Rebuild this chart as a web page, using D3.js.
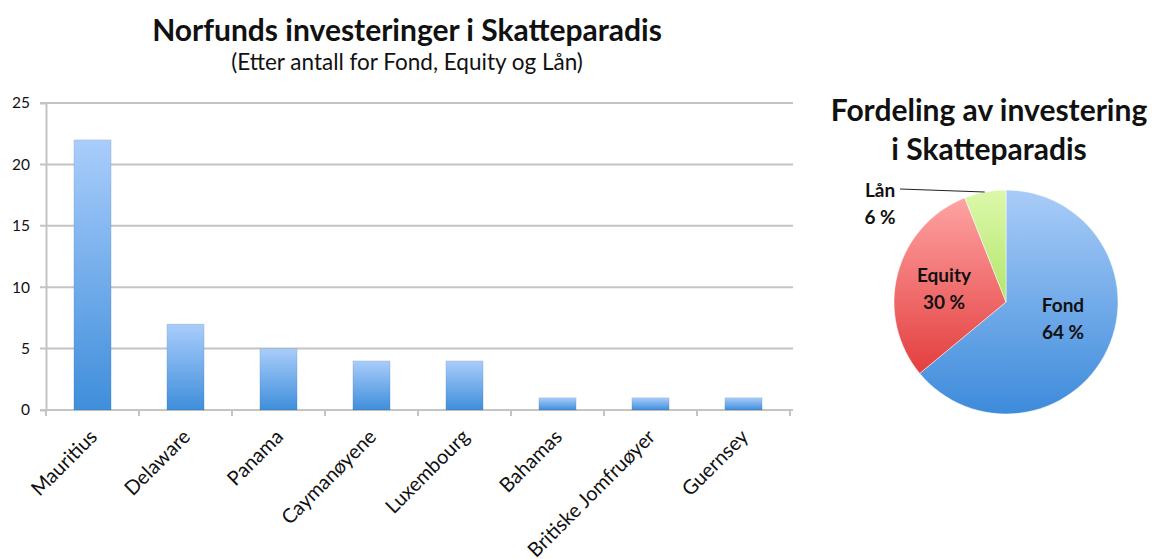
<!DOCTYPE html>
<html>
<head>
<meta charset="utf-8">
<script src="https://cdn.jsdelivr.net/npm/d3@7"></script>
<style>
  body { margin: 0; background: #fff; }
  text { font-family: Lato, "Open Sans", sans-serif; fill: #111; }
</style>
</head>
<body>
<div id="chart"></div>
<script>
// bar chart data
const countries = ["Mauritius", "Delaware", "Panama", "Caymanøyene", "Luxembourg", "Bahamas", "Britiske Jomfruøyer", "Guernsey"];
const counts = [22, 7, 5, 4, 4, 1, 1, 1];
const yTicks = [0, 5, 10, 15, 20, 25];

// pie data
const pieLabels = ["Fond", "Equity", "Lån"];
const pieValues = [64, 30, 6];

const width = 1152, height = 559;
const margin = ({top: 103, right: 362, bottom: 149, left: 46});

const svg = d3.create("svg")
    .attr("width", width)
    .attr("height", height);

const defs = svg.append("defs");
const grad = (id, top, bottom) => {
    const g = defs.append("linearGradient").attr("id", id)
        .attr("x1", 0).attr("y1", 0).attr("x2", 0).attr("y2", 1);
    g.append("stop").attr("offset", "0%").attr("stop-color", top);
    g.append("stop").attr("offset", "100%").attr("stop-color", bottom);
};
grad("barGrad", "#a9cdfb", "#3f8edb");
grad("fondGrad", "#a9ccf8", "#3d8bdb");
grad("equityGrad", "#ffa3a3", "#e33e3e");
grad("lanGrad", "#dcf8ab", "#b3e56c");

// scales
const x = d3.scaleBand()
    .domain(countries)
    .range([margin.left, width - margin.right])
    .paddingInner(0.6)
    .paddingOuter(0.3);

const y = d3.scaleLinear()
    .domain([0, 25])
    .range([height - margin.bottom, margin.top]);

// gridlines
svg.append("g")
    .selectAll("line")
    .data(yTicks)
    .join("line")
    .attr("x1", margin.left - 6)
    .attr("x2", width - margin.right + 3)
    .attr("y1", d => y(d))
    .attr("y2", d => y(d))
    .attr("stroke", "#c4c4c4")
    .attr("stroke-width", 2);

// y axis
const yAxis = svg.append("g")
    .attr("transform", `translate(${margin.left},0)`)
    .call(d3.axisLeft(y).tickValues(yTicks).tickSize(6).tickPadding(10));
yAxis.select(".domain").attr("stroke", "#c4c4c4").attr("stroke-width", 2);
yAxis.selectAll(".tick line").remove();
yAxis.selectAll("text")
    .attr("font-size", 15.5)
    .attr("fill", "#111")
    .style("font-family", "Lato, sans-serif");

// x axis with ticks between categories
const xAxisG = svg.append("g")
    .attr("transform", `translate(0,${y(0)})`);
xAxisG.append("line")
    .attr("x1", margin.left).attr("x2", width - margin.right + 3)
    .attr("stroke", "#c4c4c4").attr("stroke-width", 2);
const bandEdge = i => margin.left + i * x.step() / (1 - x.paddingInner() + x.paddingInner()) ;
xAxisG.selectAll(".xt")
    .data(d3.range(countries.length + 1))
    .join("line")
    .attr("class", "xt")
    .attr("x1", i => x(countries[0]) + x.bandwidth() / 2 - x.step() / 2 + i * x.step())
    .attr("x2", i => x(countries[0]) + x.bandwidth() / 2 - x.step() / 2 + i * x.step())
    .attr("y1", 0).attr("y2", 6)
    .attr("stroke", "#c4c4c4").attr("stroke-width", 2);

xAxisG.selectAll(".xl")
    .data(countries)
    .join("text")
    .attr("class", "xl")
    .attr("transform", d => `translate(${x(d) + x.bandwidth() / 2 + 6},${28}) rotate(-45)`)
    .attr("text-anchor", "end")
    .attr("font-size", 20)
    .text(d => d);

// bars
svg.append("g")
    .selectAll("rect")
    .data(countries)
    .join("rect")
    .attr("x", d => x(d))
    .attr("y", (d, i) => y(counts[i]))
    .attr("width", x.bandwidth())
    .attr("height", (d, i) => y(0) - y(counts[i]))
    .attr("fill", "url(#barGrad)")
    .attr("stroke", "rgba(0,0,0,0.08)")
    .attr("stroke-width", 1);

// titles
svg.append("text")
    .attr("x", 407).attr("y", 41)
    .attr("text-anchor", "middle")
    .attr("font-size", 30).attr("font-weight", "bold")
    .text("Norfunds investeringer i Skatteparadis");
svg.append("text")
    .attr("x", 407).attr("y", 70)
    .attr("text-anchor", "middle")
    .attr("font-size", 22.5)
    .text("(Etter antall for Fond, Equity og Lån)");

// pie
const cx = 1006, cy = 302, r = 112;
const pie = d3.pie().sort(null).value(d => d);
const arcs = pie(pieValues);
const arc = d3.arc().innerRadius(0).outerRadius(r);
const fills = ["url(#fondGrad)", "url(#equityGrad)", "url(#lanGrad)"];

const pg = svg.append("g").attr("transform", `translate(${cx},${cy})`);
pg.selectAll("path")
    .data(arcs)
    .join("path")
    .attr("d", arc)
    .attr("fill", (d, i) => fills[i])
    .attr("stroke", "#fff")
    .attr("stroke-width", 0.5);

// pie titles
svg.append("text")
    .attr("x", 989).attr("y", 121)
    .attr("text-anchor", "middle")
    .attr("font-size", 30).attr("font-weight", "bold")
    .text("Fordeling av investering");
svg.append("text")
    .attr("x", 989).attr("y", 160)
    .attr("text-anchor", "middle")
    .attr("font-size", 30).attr("font-weight", "bold")
    .text("i Skatteparadis");

// pie labels (label block anchors relative to pie centre)
const labelPos = [[57, 10], [-62, -20], [-126, -105]];
pg.selectAll(".pl")
    .data(arcs)
    .join("text")
    .attr("class", "pl")
    .attr("text-anchor", "middle")
    .attr("font-size", 19).attr("font-weight", "bold")
    .attr("transform", (d, i) => `translate(${labelPos[i][0]},${labelPos[i][1]})`)
    .each(function(d, i) {
        d3.select(this).append("tspan").attr("x", 0).attr("y", 0).text(pieLabels[i]);
        d3.select(this).append("tspan").attr("x", 0).attr("y", 27).text(pieValues[i] + " %");
    });

// leader line for Lån
const lanMid = (arcs[2].startAngle + arcs[2].endAngle) / 2;
pg.append("path")
    .attr("d", `M${-106},${-113} L${Math.sin(lanMid) * r * 0.92 - 2},${-110}`)
    .attr("fill", "none")
    .attr("stroke", "#222")
    .attr("stroke-width", 1.2);

document.getElementById("chart").appendChild(svg.node());
</script>
</body>
</html>
